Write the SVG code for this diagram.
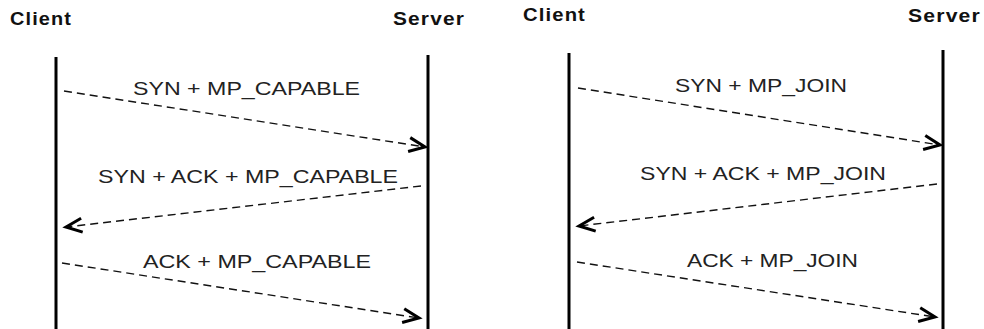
<svg xmlns="http://www.w3.org/2000/svg" width="984" height="329" viewBox="0 0 984 329">
<style>
.title{font-family:"Liberation Sans",Arial,sans-serif;font-weight:bold;font-size:18px;fill:#111;letter-spacing:1px}
.lbl{font-family:"Liberation Sans",Arial,sans-serif;font-size:18px;fill:#222}
.life{stroke:#000;stroke-width:3;fill:none}
.msg{stroke:#111;stroke-width:1.4;stroke-dasharray:8 5;fill:none;marker-end:url(#arr)}
</style>
<defs>
<marker id="arr" markerUnits="userSpaceOnUse" markerWidth="24" markerHeight="20" viewBox="-20 -10 24 20" refX="0" refY="0" orient="auto">
<path d="M-16,-7 L0,0 L-16,7" fill="none" stroke="#000" stroke-width="3" stroke-linejoin="miter"/>
</marker>
</defs>
<rect width="984" height="329" fill="#fff"/>
<g id="client1"><line class="life" x1="56" y1="57" x2="56" y2="329"/><text class="title" x="10" y="25" textLength="62" lengthAdjust="spacingAndGlyphs">Client</text></g>
<g id="server1"><line class="life" x1="428" y1="55" x2="428" y2="329"/><text class="title" x="393" y="25" textLength="72" lengthAdjust="spacingAndGlyphs">Server</text></g>
<g id="client2"><line class="life" x1="569" y1="53" x2="569" y2="329"/><text class="title" x="523" y="21" textLength="63" lengthAdjust="spacingAndGlyphs">Client</text></g>
<g id="server2"><line class="life" x1="943" y1="50" x2="943" y2="329"/><text class="title" x="908" y="22" textLength="73" lengthAdjust="spacingAndGlyphs">Server</text></g>
<g id="connectors">
<path class="msg" d="M64,91 L425,147"/>
<text class="lbl" x="133" y="95" textLength="227" lengthAdjust="spacingAndGlyphs">SYN + MP_CAPABLE</text>
<path class="msg" d="M421,186 L66,227"/>
<text class="lbl" x="98" y="183" textLength="300" lengthAdjust="spacingAndGlyphs">SYN + ACK + MP_CAPABLE</text>
<path class="msg" d="M62,263 L419,318"/>
<text class="lbl" x="143" y="268" textLength="228" lengthAdjust="spacingAndGlyphs">ACK + MP_CAPABLE</text>
<path class="msg" d="M578,88 L940,145"/>
<text class="lbl" x="675" y="92" textLength="172" lengthAdjust="spacingAndGlyphs">SYN + MP_JOIN</text>
<path class="msg" d="M937,184 L579,226"/>
<text class="lbl" x="640" y="180" textLength="246" lengthAdjust="spacingAndGlyphs">SYN + ACK + MP_JOIN</text>
<path class="msg" d="M577,262 L935,317"/>
<text class="lbl" x="687" y="267" textLength="171" lengthAdjust="spacingAndGlyphs">ACK + MP_JOIN</text>
</g>
</svg>
